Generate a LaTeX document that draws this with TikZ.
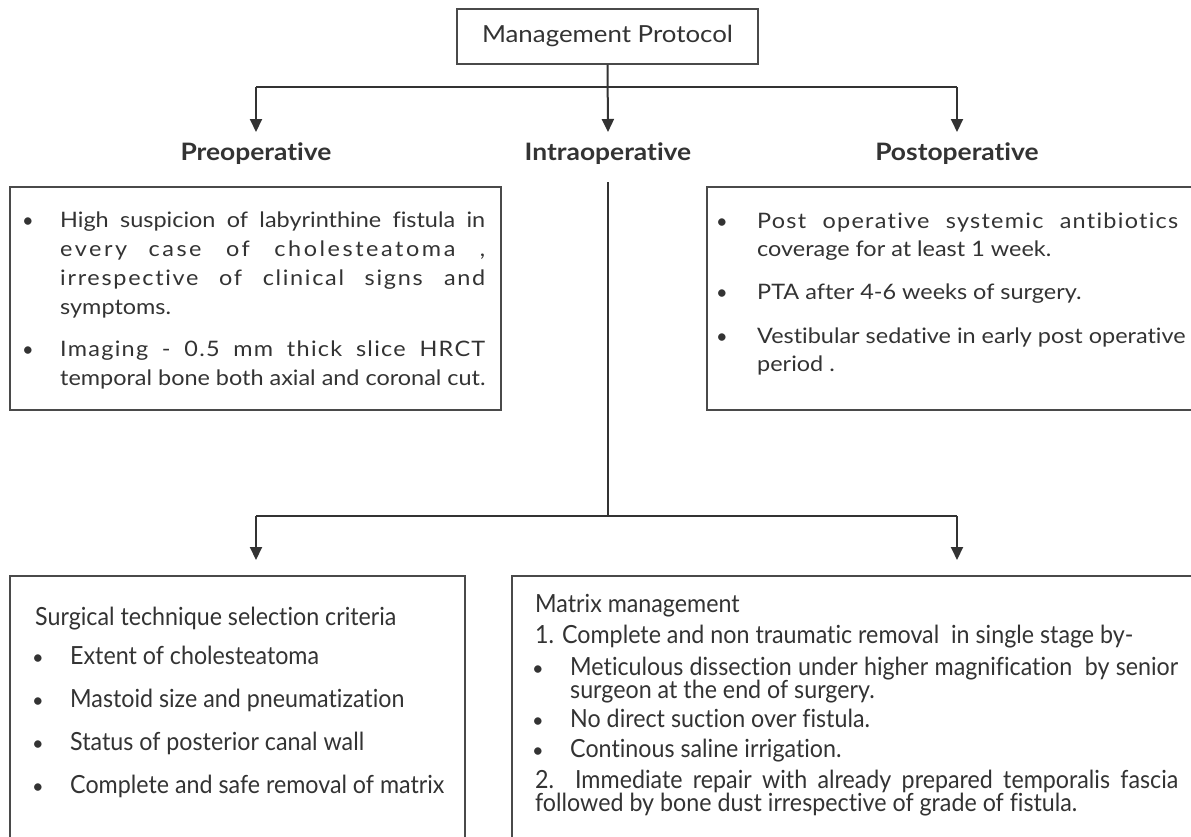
\documentclass[tikz,border=0pt]{standalone}
\usepackage{fontspec}
\defaultfontfeatures{Ligatures=NoCommon}
\setmainfont{Lato}
\newfontfamily\wideLato{Lato}[FakeStretch=1.1,Ligatures=NoCommon]
\newfontfamily\narrowLato{Lato}[FakeStretch=0.93,Ligatures=NoCommon]
\usetikzlibrary{arrows.meta}
\definecolor{ink}{HTML}{333333}
\definecolor{frame}{HTML}{4A4A4A}
\tikzset{
  box/.style={draw=frame, line width=1.4pt},
  conn/.style={draw=ink, line width=2pt},
  arr/.style={conn, -{Triangle[width=12pt,length=13pt]}},
  tl/.style={anchor=base west, inner sep=0pt, text=ink, font=\wideLato\fontsize{21.3}{26}\selectfont},
  ll/.style={anchor=base west, inner sep=0pt, text=ink, font=\narrowLato\fontsize{25}{28}\selectfont},
  bul/.style={anchor=base, inner sep=0pt, text=ink, font=\fontsize{20}{24}\selectfont},
  head/.style={anchor=base, inner sep=0pt, text=ink, font=\wideLato\bfseries\fontsize{24}{28}\selectfont},
}
\begin{document}
\begin{tikzpicture}[x=1pt,y=-1pt]
\useasboundingbox (0,0) rectangle (1191,836);
\clip (0,0) rectangle (1191,836);
\fill[white] (0,0) rectangle (1191,836);

% title
\node[box, minimum width=301pt, minimum height=55pt, inner sep=0pt, text height=17pt, text depth=5pt,
      text=ink, font=\wideLato\fontsize{23.5}{28}\selectfont] (mp) at (607.5,36.5) {Management Protocol};

% headings
\node[head] (pre) at (256,160) {Preoperative};
\node[head] (intra) at (608,160) {Intraoperative};
\node[head] (post) at (957,160) {Postoperative};

% top connectors
\coordinate (hubL) at (256,87);
\coordinate (hubR) at (957,87);
\coordinate (preTip) at (256,132);
\coordinate (intraTip) at (608,132);
\coordinate (postTip) at (957,132);
\draw[conn] (hubL) -- (hubR);
\draw[arr] (mp.south) -- (intraTip);
\draw[arr] (hubL) -- (preTip);
\draw[arr] (hubR) -- (postTip);

% intra trunk
\coordinate (trunkTop) at (608,182);
\coordinate (trunkBot) at (608,516);
\coordinate (lowL) at (256,516);
\coordinate (lowR) at (957,516);
\coordinate (lowLTip) at (256,560);
\coordinate (lowRTip) at (957,560);
\draw[conn] (trunkTop) -- (trunkBot);
\draw[conn] (lowL) -- (lowR);
\draw[arr] (lowL) -- (lowLTip);
\draw[arr] (lowR) -- (lowRTip);

% boxes
\draw[box] (10,187) rectangle (501,410);
\draw[box] (707,187) rectangle (1205,410);
\draw[box] (10,576) rectangle (465,850);
\draw[box] (512,576) rectangle (1205,850);

% preoperative text
\node[bul] (pb1) at (28,227) {\textbullet};
\node[tl] (p1) at (60,227) {\makebox[425pt][s]{High suspicion of labyrinthine fistula in}};
\node[tl] (p2) at (60,256) {\addfontfeature{LetterSpace=12}\makebox[425pt][s]{every\quad case of cholesteatoma ,}};
\node[tl] (p3) at (60,285) {\addfontfeature{LetterSpace=8}\makebox[425pt][s]{irrespective of clinical signs\quad and}};
\node[tl] (p4) at (60,314) {symptoms.};
\node[bul] (pb2) at (28,356) {\textbullet};
\node[tl] (p5) at (60,356) {\addfontfeature{LetterSpace=6}\makebox[425pt][s]{Imaging - 0.5 mm thick slice HRCT}};
\node[tl] (p6) at (60,385) {temporal bone both axial and coronal cut.};

% postoperative text
\node[bul] (qb1) at (722,228) {\textbullet};
\node[tl] (q1) at (757,228) {\addfontfeature{LetterSpace=6}\makebox[421pt][s]{Post operative systemic antibiotics}};
\node[tl] (q2) at (757,256) {coverage for at least 1 week.};
\node[bul] (qb2) at (722,299) {\textbullet};
\node[tl] (q3) at (757,299) {PTA after 4-6 weeks of surgery.};
\node[bul] (qb3) at (722,343) {\textbullet};
\node[tl] (q4) at (757,343) {Vestibular sedative in early post operative};
\node[tl] (q5) at (757,371) {period .};

% lower left text
\node[ll] (s0) at (35,625) {Surgical technique selection criteria};
\node[bul] (sb1) at (38,664) {\textbullet};
\node[ll] (s1) at (70,664) {Extent of cholesteatoma};
\node[bul] (sb2) at (38,707) {\textbullet};
\node[ll] (s2) at (70,707) {Mastoid size and pneumatization};
\node[bul] (sb3) at (38,750) {\textbullet};
\node[ll] (s3) at (70,750) {Status of posterior canal wall};
\node[bul] (sb4) at (38,793) {\textbullet};
\node[ll] (s4) at (70,793) {Complete and safe removal of matrix};

% lower right text
\node[ll] (m0) at (535,612) {Matrix management};
\node[ll] (m1) at (535,643) {1. Complete and non traumatic removal\ \ in single stage by-};
\node[bul] (mb1) at (538,675) {\textbullet};
\node[ll] (m2) at (570,675) {\makebox[608pt][s]{Meticulous dissection under higher magnification\ \ by senior}};
\node[ll] (m3) at (570,698) {surgeon at the end of surgery.};
\node[bul] (mb2) at (538,727) {\textbullet};
\node[ll] (m4) at (570,727) {No direct suction over fistula.};
\node[bul] (mb3) at (538,757) {\textbullet};
\node[ll] (m5) at (570,757) {Continous saline irrigation.};
\node[ll] (m6) at (535,788) {\makebox[643pt][s]{2. Immediate repair with already prepared temporalis fascia}};
\node[ll] (m7) at (535,811) {followed by bone dust irrespective of grade of fistula.};
\end{tikzpicture}
\end{document}
